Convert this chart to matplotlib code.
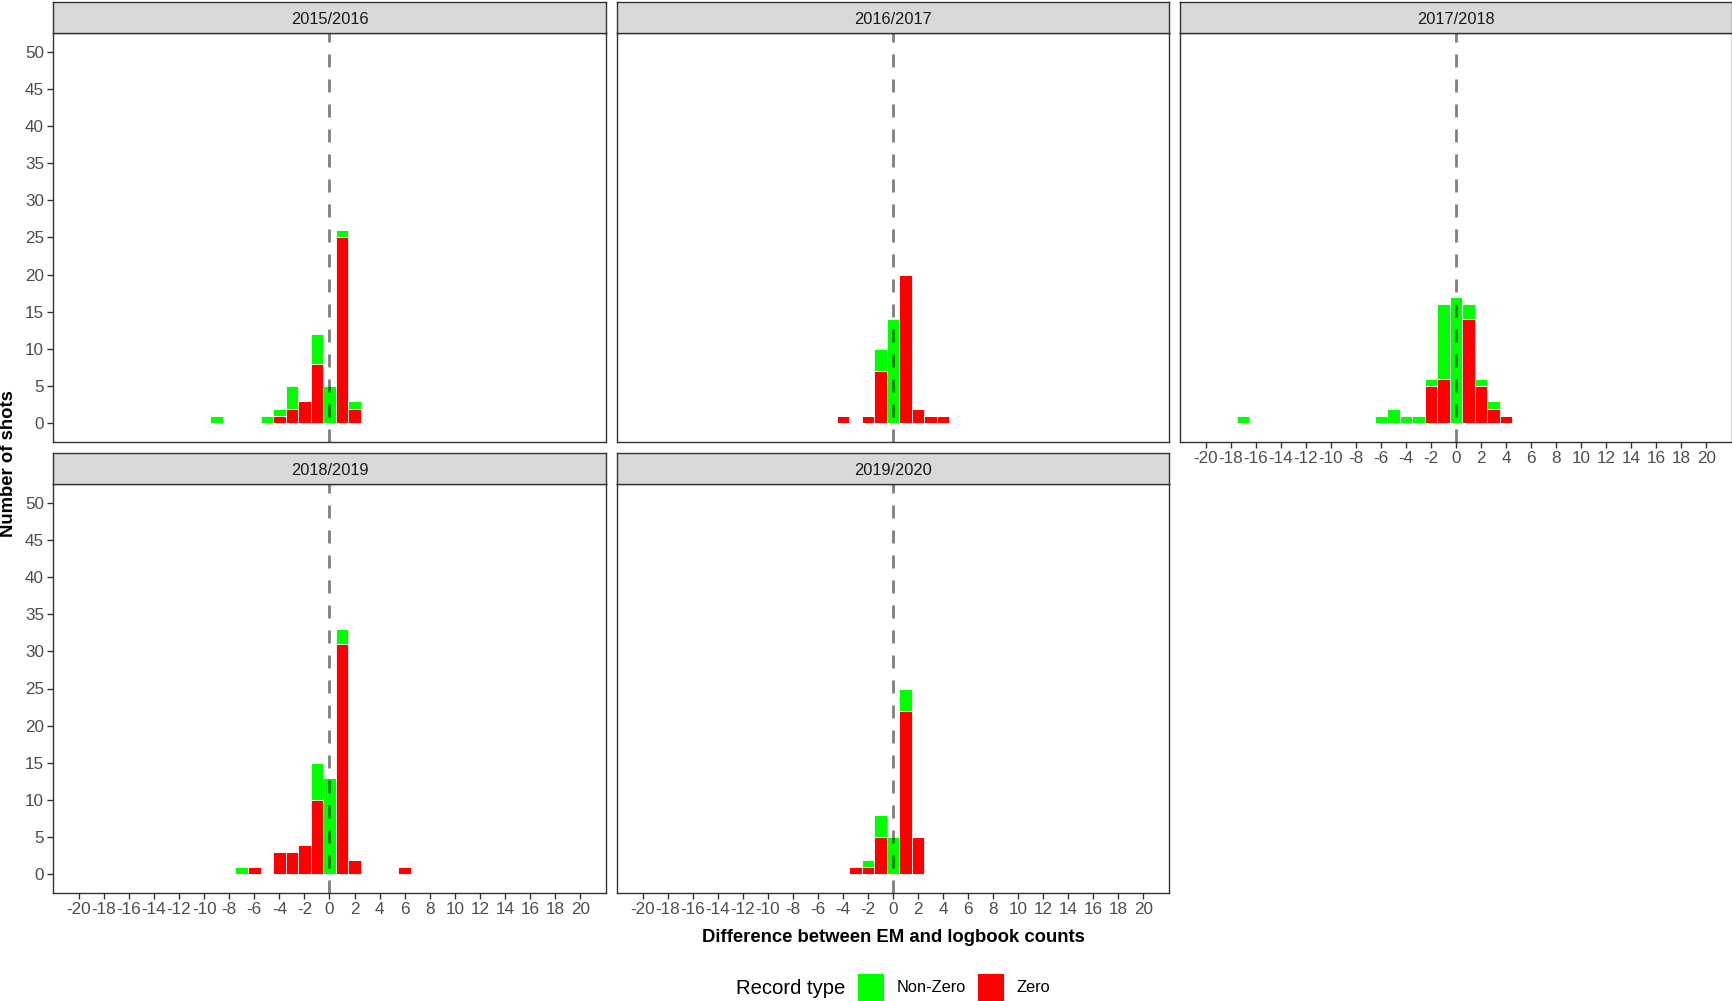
import matplotlib
matplotlib.use("Agg")
import matplotlib.pyplot as plt
from matplotlib.patches import Rectangle
import numpy as np

plt.rcParams['font.family'] = ['Liberation Sans', 'DejaVu Sans']
plt.rcParams['axes.unicode_minus'] = False

# ---- data ----
seasons = ["2015/2016", "2016/2017", "2017/2018", "2018/2019", "2019/2020"]

x_1516 = [-9, -5, -4, -3, -2, -1, 0, 1, 2]
zero_1516 = [0, 0, 1, 2, 3, 8, 0, 25, 2]
nonzero_1516 = [1, 1, 1, 3, 0, 4, 5, 1, 1]

x_1617 = [-4, -2, -1, 0, 1, 2, 3, 4]
zero_1617 = [1, 1, 7, 0, 20, 2, 1, 1]
nonzero_1617 = [0, 0, 3, 14, 0, 0, 0, 0]

x_1718 = [-17, -6, -5, -4, -3, -2, -1, 0, 1, 2, 3, 4]
zero_1718 = [0, 0, 0, 0, 0, 5, 6, 0, 14, 5, 2, 1]
nonzero_1718 = [1, 1, 2, 1, 1, 1, 10, 17, 2, 1, 1, 0]

x_1819 = [-7, -6, -4, -3, -2, -1, 0, 1, 2, 6]
zero_1819 = [0, 1, 3, 3, 4, 10, 0, 31, 2, 1]
nonzero_1819 = [1, 0, 0, 0, 0, 5, 13, 2, 0, 0]

x_1920 = [-3, -2, -1, 0, 1, 2]
zero_1920 = [1, 1, 5, 0, 22, 5]
nonzero_1920 = [0, 1, 3, 5, 3, 0]

xs = [x_1516, x_1617, x_1718, x_1819, x_1920]
zeros = [zero_1516, zero_1617, zero_1718, zero_1819, zero_1920]
nonzeros = [nonzero_1516, nonzero_1617, nonzero_1718, nonzero_1819, nonzero_1920]

x_ticks = list(range(-20, 21, 2))
y_ticks = list(range(0, 51, 5))

legend_title = "Record type"
legend_labels = ["Non-Zero", "Zero"]
col_nonzero = "#00FF00"
col_zero = "#FF0000"

# ---- layout (pixels) ----
W, H = 1733, 1001
fig = plt.figure(figsize=(W / 100, H / 100), dpi=100)

col_left = [53, 617, 1180]
col_w = [553, 552, 552]
rows = [(2, 33, 442), (453, 484, 893)]  # strip top, axes top, axes bottom
positions = [(0, 0), (0, 1), (0, 2), (1, 0), (1, 1)]
show_x = [False, False, True, True, True]

def frac(l, t, w, h):
    return [l / W, 1 - (t + h) / H, w / W, h / H]

for i, season in enumerate(seasons):
    r, c = positions[i]
    st, at, ab = rows[r]
    l, w = col_left[c], col_w[c]
    ax = fig.add_axes(frac(l, at, w, ab - at))
    x = np.array(xs[i])
    z = np.array(zeros[i])
    nz = np.array(nonzeros[i])
    ax.bar(x, z, width=1.0, color=col_zero, edgecolor="white", linewidth=0.6, zorder=2)
    ax.bar(x, nz, bottom=z, width=1.0, color=col_nonzero, edgecolor="white", linewidth=0.6, zorder=2)
    ax.axvline(0, color="black", alpha=0.5, linewidth=2.0, linestyle=(0, (4.7, 4.3)), zorder=3)
    ax.set_xlim(-22.05, 22.05)
    ax.set_ylim(-2.5, 52.5)
    ax.set_xticks(x_ticks)
    ax.set_yticks(y_ticks)
    ax.tick_params(axis="both", length=4, width=1, color="#333333", labelcolor="#4D4D4D",
                   labelsize=12.3, pad=2.5)
    if not show_x[i]:
        ax.tick_params(axis="x", length=0, labelbottom=False)
    if c != 0:
        ax.tick_params(axis="y", length=0, labelleft=False)
    for sp in ax.spines.values():
        sp.set_color("#333333")
        sp.set_linewidth(1.0)
    # strip
    sax = fig.add_axes(frac(l, st, w, at - st))
    sax.set_xticks([])
    sax.set_yticks([])
    sax.set_facecolor("#D9D9D9")
    for sp in sax.spines.values():
        sp.set_color("#333333")
        sp.set_linewidth(1.0)
    sax.text(0.5, 0.45, season, transform=sax.transAxes, ha="center", va="center",
             fontsize=11.8, color="#1A1A1A")

# axis titles
fig.text(9 / W, 1 - 464 / H, "Number of shots", rotation=90, ha="center", va="center",
         fontsize=13.3, fontweight="bold")
fig.text(893 / W, 1 - 937 / H, "Difference between EM and logbook counts", ha="center",
         va="center", fontsize=13.3, fontweight="bold")

# legend
fig.text(736 / W, 1 - 988 / H, legend_title, ha="left", va="center", fontsize=14.6)
fig.patches.append(Rectangle((857 / W, 1 - 1001 / H), 27 / W, 28 / H, transform=fig.transFigure,
                             facecolor=col_nonzero, edgecolor="white", linewidth=0.6))
fig.text(897 / W, 1 - 988 / H, legend_labels[0], ha="left", va="center", fontsize=11.8)
fig.patches.append(Rectangle((977 / W, 1 - 1001 / H), 27 / W, 28 / H, transform=fig.transFigure,
                             facecolor=col_zero, edgecolor="white", linewidth=0.6))
fig.text(1017 / W, 1 - 988 / H, legend_labels[1], ha="left", va="center", fontsize=11.8)

fig.savefig("out.png", dpi=100, facecolor="white")
